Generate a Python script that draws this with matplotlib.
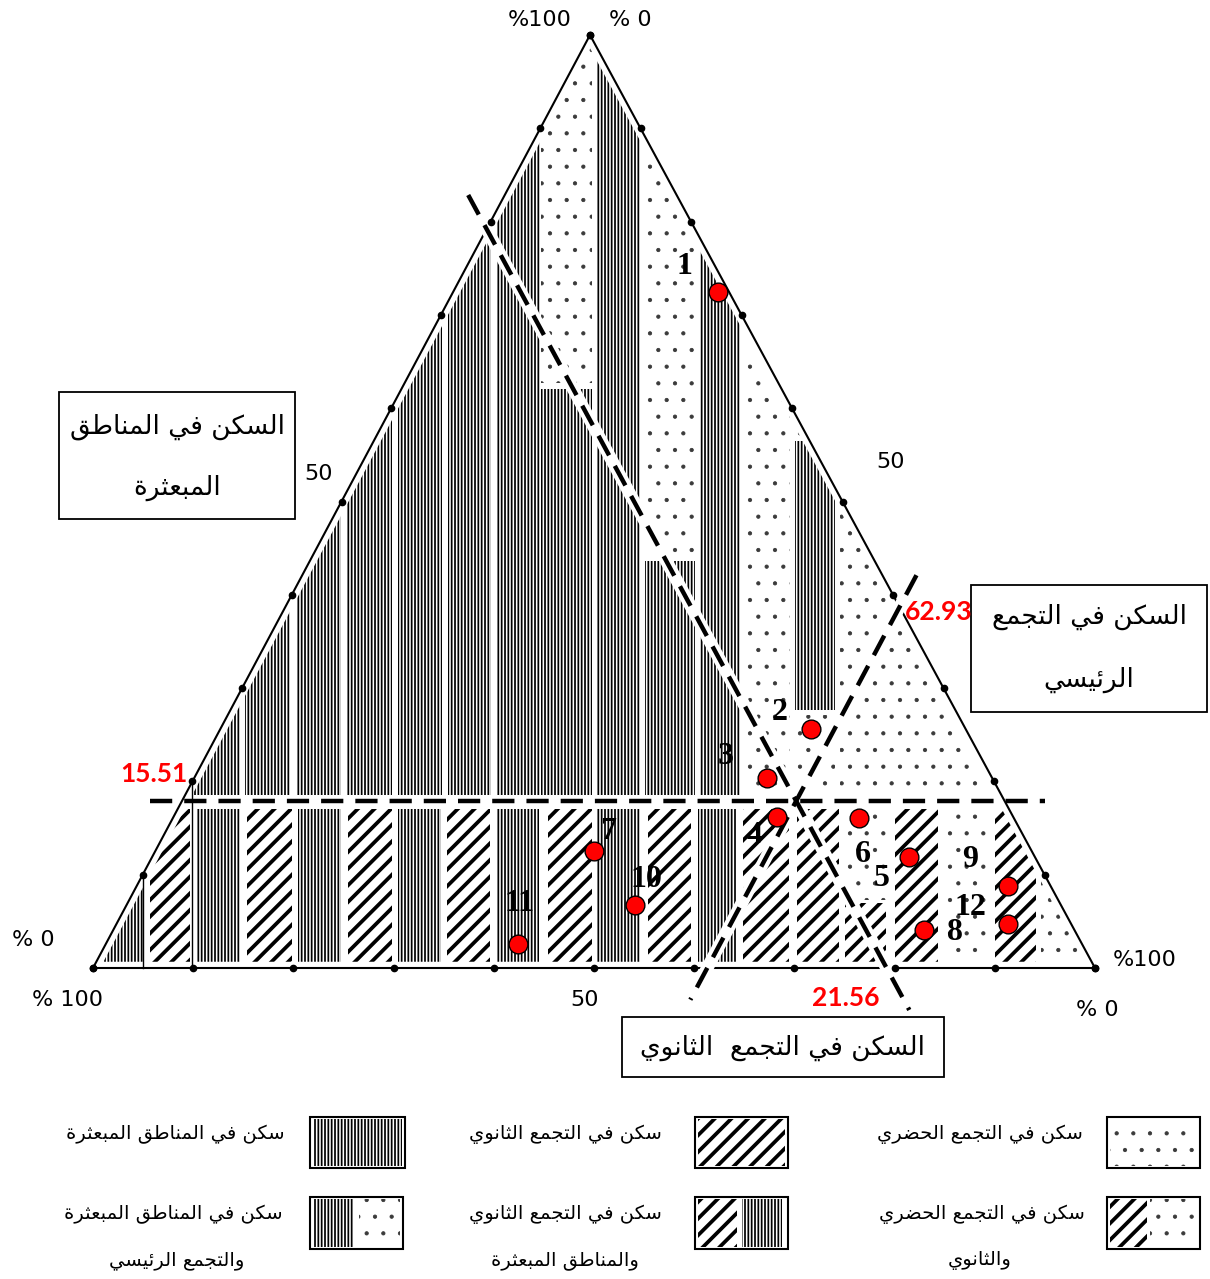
import matplotlib
matplotlib.use("Agg")
import matplotlib.pyplot as plt
from matplotlib.patches import Polygon, Rectangle

# --- data: composition of each commune (percent) ---
point_ids = [1, 2, 3, 4, 5, 6, 7, 8, 9, 10, 11, 12]
scattered = [72.5, 25.6, 20.4, 16.2, 11.9, 16.1, 12.5, 4.1, 8.8, 6.8, 2.6, 4.7]
main_agg = [26.4, 59.0, 57.1, 60.2, 75.5, 68.5, 43.8, 80.9, 87.0, 50.7, 41.1, 89.0]
secondary = [round(100 - s - m, 1) for s, m in zip(scattered, main_agg)]

# reference lines as drawn, and the values written next to them
cut_scattered, cut_main, cut_secondary = 17.9, 61.3, 20.8
cut_labels = ["15.51", "62.93", "21.56"]

side_ticks = [i * 10 for i in range(11)]

# label offsets (px) for point numbers
label_off = {1: (-33, -25), 2: (-32, -17), 3: (-41, -21), 4: (-22, 19), 5: (-27, 22),
             6: (3, 37), 7: (14, -20), 8: (31, 3), 9: (-38, -26), 10: (12, -25),
             11: (2, -40), 12: (-38, -17)}

# --- minimal arabic shaping (matplotlib draws no RTL / joining) ---
DUAL = {'ئ': 0xFE89, 'ب': 0xFE8F, 'ت': 0xFE95, 'ث': 0xFE99, 'ج': 0xFE9D, 'ح': 0xFEA1,
        'خ': 0xFEA5, 'س': 0xFEB1, 'ش': 0xFEB5, 'ص': 0xFEB9, 'ض': 0xFEBD, 'ط': 0xFEC1,
        'ظ': 0xFEC5, 'ع': 0xFEC9, 'غ': 0xFECD, 'ف': 0xFED1, 'ق': 0xFED5, 'ك': 0xFED9,
        'ل': 0xFEDD, 'م': 0xFEE1, 'ن': 0xFEE5, 'ه': 0xFEE9, 'ي': 0xFEF1}
RIGHT = {'آ': 0xFE81, 'أ': 0xFE83, 'ؤ': 0xFE85, 'إ': 0xFE87, 'ا': 0xFE8D, 'ة': 0xFE93,
         'د': 0xFEA9, 'ذ': 0xFEAB, 'ر': 0xFEAD, 'ز': 0xFEAF, 'و': 0xFEED, 'ى': 0xFEEF}


def ar(text):
    res = []
    n = len(text)
    for i, c in enumerate(text):
        base = DUAL.get(c, RIGHT.get(c))
        if base is None:
            res.append(c)
            continue
        prev = text[i - 1] if i > 0 else ''
        nxt = text[i + 1] if i + 1 < n else ''
        p = prev in DUAL
        q = c in DUAL and (nxt in DUAL or nxt in RIGHT)
        form = 3 if (p and q) else 1 if p else 2 if q else 0
        res.append(chr(base + form))
    return ''.join(reversed(res))


# --- geometry (canvas pixels) ---
TOP, BR, BL = (590, 35), (1095, 968), (93, 968)


def xy(s, m, d):
    s, m, d = s / 100, m / 100, d / 100
    return (s * TOP[0] + m * BR[0] + d * BL[0], s * TOP[1] + m * BR[1] + d * BL[1])


fig = plt.figure(figsize=(12.1, 12.79), dpi=100)
ax = fig.add_axes([0, 0, 1, 1])
ax.set_xlim(0, 1210)
ax.set_ylim(1279, 0)
ax.axis("off")

tri = Polygon([TOP, BR, BL], closed=True, fill=False, edgecolor="none")
ax.add_patch(tri)

# hatch, hatch linewidth, hatch colour
PATTERNS = {"v": ("|||||", 1.25, "black"), "d": ("//", 2.7, "black"), "o": (".", 0.6, "#3a3a3a")}


def swatch(x0, x1, y0, y1, kind, clip=True):
    h, lw, col = PATTERNS[kind]
    r = Rectangle((x0, y0), x1 - x0, y1 - y0, facecolor="white", edgecolor=col,
                  lw=0, hatch=h, zorder=1)
    if hasattr(r, "set_hatch_linewidth"):
        r.set_hatch_linewidth(lw)
    ax.add_patch(r)
    if clip:
        r.set_clip_path(tri)
    return r


y_split = xy(cut_scattered, 100 - cut_scattered, 0)[1]
up_bot, low_top, low_bot = y_split - 6, y_split + 8, 963

upper = [(193, 240, "v"), (245, 290, "v"), (296, 341, "v"), (347, 392, "v"),
         (398, 442, "v"), (448, 491, "v"), (497, 540, "v"),
         (541, 592, "o", 30, 383), (541, 592, "v", 389, None), (597, 640, "v"),
         (645, 695, "o", 30, 555), (645, 695, "v", 561, None), (700, 740, "v"),
         (745, 790, "o"), (795, 835, "o", 30, 436), (795, 835, "v", 441, 710),
         (795, 835, "o", 715, None), (840, 1095, "o")]
lower = [(93, 143, "v"), (150, 190, "d"), (197, 240, "v"), (247, 292, "d"),
         (298, 341, "v"), (348, 392, "d"), (398, 441, "v"), (447, 490, "d"),
         (497, 539, "v"), (548, 592, "d"), (597, 640, "v"), (648, 691, "d"),
         (698, 737, "v"), (743, 789, "d"), (797, 839, "d"), (845, 886, "o", None, 900),
         (845, 886, "d", 903, None), (895, 938, "d"), (945, 988, "o"),
         (995, 1036, "d"), (1041, 1095, "o")]

for col in upper:
    x0, x1, k = col[:3]
    y0 = col[3] if len(col) > 3 and col[3] is not None else 30
    y1 = col[4] if len(col) > 4 and col[4] is not None else up_bot
    swatch(x0, x1, y0, y1, k)
for col in lower:
    x0, x1, k = col[:3]
    y0 = col[3] if len(col) > 3 and col[3] is not None else low_top
    y1 = col[4] if len(col) > 4 and col[4] is not None else low_bot
    swatch(x0, x1, y0, y1, k)

# white inner margin + outline
edge = [TOP, BR, BL, TOP]
ax.plot([p[0] for p in edge], [p[1] for p in edge], color="white", lw=9, zorder=2,
        solid_joinstyle="miter")
ax.plot([p[0] for p in edge], [p[1] for p in edge], color="black", lw=1.5, zorder=3)

# thin verticals from the 10% and 20% ticks on the left side
for t in (10, 20):
    px, py = xy(t, 0, 100 - t)
    ax.plot([px, px], [py, BL[1]], color="black", lw=1, zorder=3)

# tick dots on the three sides
for t in side_ticks:
    for p in (xy(t, 0, 100 - t), xy(100 - t, t, 0), xy(0, t, 100 - t)):
        ax.plot(*p, "o", color="black", ms=4.5, zorder=5)

# dashed reference lines
dash = dict(color="black", lw=3.2, dashes=(5, 2.7), zorder=4)
a0 = xy(82.85, 100 - 82.85 - cut_secondary, cut_secondary)
a1 = xy(-4.5, 100 + 4.5 - cut_secondary, cut_secondary)
b0 = xy(42.1, cut_main, 100 - 42.1 - cut_main)
b1 = xy(-3.4, cut_main, 100 + 3.4 - cut_main)
h0 = xy(cut_scattered, -3.2, 100 - cut_scattered + 3.2)
h1 = xy(cut_scattered, 86.1, 100 - cut_scattered - 86.1)
for p0, p1 in ((a0, a1), (b0, b1)):
    ax.plot([p0[0], p1[0]], [p0[1], p1[1]], color="white", lw=9, zorder=3.5)
for p0, p1 in ((a0, a1), (b0, b1), (h0, h1)):
    ax.plot([p0[0], p1[0]], [p0[1], p1[1]], **dash)

# points
for i, s, m, d in zip(point_ids, scattered, main_agg, secondary):
    px, py = xy(s, m, d)
    ax.plot(px, py, "o", color="red", ms=13.5, mec="black", mew=1, zorder=6)
    dx, dy = label_off[i]
    ax.text(px + dx, py + dy, str(i), fontsize=23, fontweight="bold",
            family="Liberation Serif", ha="center", va="center", zorder=7)

# values of the reference lines
red = dict(color="red", fontsize=19, fontweight="bold", family="Lato", va="center", zorder=7)
lp = xy(cut_scattered, 0, 100 - cut_scattered)
ax.text(lp[0] + 6, lp[1] - 27, cut_labels[0], ha="right", **red)
rp = xy(100 - cut_main, cut_main, 0)
ax.text(rp[0] + 5, rp[1] + 5, cut_labels[1], ha="left", **red)
bp = xy(0, 100 - cut_secondary, cut_secondary)
ax.text(bp[0] - 41, bp[1] + 30, cut_labels[2], ha="center", **red)

# corner and mid labels
lab = dict(fontsize=16, family="DejaVu Sans", va="center", ha="center")
ax.text(TOP[0] - 50, TOP[1] - 15, "%100", **lab)
ax.text(TOP[0] + 40, TOP[1] - 15, "% 0", **lab)
ax.text(BL[0] - 60, BL[1] - 28, "% 0", **lab)
ax.text(BL[0] - 25, BL[1] + 32, "% 100", **lab)
ax.text(BR[0] + 50, BR[1] - 8, "%100", **lab)
ax.text(BR[0] + 2, BR[1] + 42, "% 0", **lab)
mid_l, mid_r, mid_b = xy(50, 0, 50), xy(50, 50, 0), xy(0, 50, 50)
ax.text(mid_l[0] - 23, mid_l[1] - 27, "50", **lab)
ax.text(mid_r[0] + 48, mid_r[1] - 40, "50", **lab)
ax.text(mid_b[0] - 9, mid_b[1] + 32, "50", **lab)

# axis title boxes
boxes = [((59, 392, 236, 127), ["السكن في المناطق", "المبعثرة"], (427, 488)),
         ((971, 585, 236, 127), ["السكن في التجمع", "الرئيسي"], (617, 680)),
         ((622, 1017, 322, 60), ["السكن في التجمع  الثانوي"], (1048,))]
for (bx, by, bw, bh), lines, ys in boxes:
    ax.add_patch(Rectangle((bx, by), bw, bh, fill=False, edgecolor="black", lw=1.3, zorder=5))
    for t, ty in zip(lines, ys):
        ax.text(bx + bw / 2, ty, ar(t), fontsize=19, family="DejaVu Sans",
                ha="center", va="center", zorder=6)

# legend
legend_items = [
    ((310, 405, 1117, 1168), [("v", 0, 1)], ["سكن في المناطق المبعثرة"], 285, 177),
    ((695, 788, 1117, 1168), [("d", 0, 1)], ["سكن في التجمع الثانوي"], 662, 565),
    ((1107, 1200, 1117, 1168), [("o", 0, 1)], ["سكن في التجمع الحضري"], 1083, 980),
    ((310, 403, 1197, 1249), [("v", 0, 0.47), ("o", 0.53, 1)],
     ["سكن في المناطق المبعثرة", "والتجمع الرئيسي"], 283, 177),
    ((695, 788, 1197, 1249), [("d", 0, 0.45), ("v", 0.51, 0.97)],
     ["سكن في التجمع الثانوي", "والمناطق المبعثرة"], 662, 565),
    ((1107, 1200, 1197, 1249), [("d", 0, 0.42), ("o", 0.46, 1)],
     ["سكن في التجمع الحضري", "والثانوي"], 1085, 980),
]
for (x0, x1, y0, y1), parts, texts, tx, tc in legend_items:
    w = x1 - x0
    for k, f0, f1 in parts:
        swatch(x0 + 3 + f0 * (w - 6), x0 + 3 + f1 * (w - 6), y0 + 2, y1 - 2, k, clip=False)
    ax.add_patch(Rectangle((x0, y0), w, y1 - y0, fill=False, edgecolor="black", lw=1.5, zorder=5))
    ax.text(tx, y0 + 17, ar(texts[0]), fontsize=14, family="DejaVu Sans",
            ha="right", va="center")
    if len(texts) > 1:
        ax.text(tc, y0 + 63, ar(texts[1]), fontsize=14, family="DejaVu Sans",
                ha="center", va="center")

fig.savefig("out.png", dpi=100)
